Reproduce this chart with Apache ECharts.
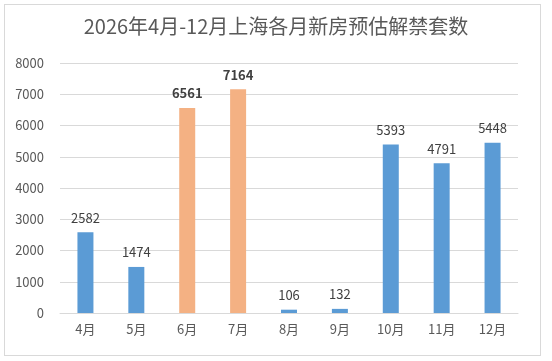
<!DOCTYPE html>
<html><head><meta charset="utf-8">
<script src="https://cdn.jsdelivr.net/npm/echarts@6/dist/echarts.min.js"></script>
<style>html,body{margin:0;padding:0;background:#fff}#c{width:552px;height:361px}
#frame{position:absolute;left:4px;top:4px;width:535px;height:350px;border:1px solid #d9d9d9;pointer-events:none}</style>
</head><body><div id="c"></div><div id="frame"></div>
<script>
const categories = ['4月','5月','6月','7月','8月','9月','10月','11月','12月'];
const values = [2582,1474,6561,7164,106,132,5393,4791,5448];
const highlight = [false,false,true,true,false,false,false,false,false];
const yTicks = [0,1000,2000,3000,4000,5000,6000,7000,8000];
const title = '2026年4月-12月上海各月新房预估解禁套数';

const font = '"Noto Sans CJK SC", "Noto Sans", sans-serif';
const chart = echarts.init(document.getElementById('c'));
chart.setOption({
  animation:false,
  backgroundColor:'#fff',
  title:{text:title,left:'center',top:11,textStyle:{fontFamily:font,fontSize:20,fontWeight:'normal',color:'#595959'}},
  grid:{left:60,right:34,top:63,bottom:48},
  xAxis:{type:'category',data:categories,
    axisLine:{lineStyle:{color:'#d9d9d9'}},axisTick:{show:false},
    axisLabel:{fontFamily:font,fontSize:13,color:'#595959',margin:10}},
  yAxis:{type:'value',min:yTicks[0],max:yTicks[yTicks.length-1],interval:1000,
    axisLine:{show:false},axisTick:{show:false},
    splitLine:{lineStyle:{color:'#d9d9d9'}},
    axisLabel:{fontFamily:font,fontSize:13,color:'#595959',margin:16,formatter:v=>String(v)}},
  series:[{type:'bar',barWidth:16,
    data:values.map((v,i)=>({value:v,
      itemStyle:{color:highlight[i]?'#F4B183':'#5B9BD5'},
      label:{fontWeight:highlight[i]?'bold':'normal'}})),
    label:{show:true,position:'top',distance:8,fontFamily:font,fontSize:13,color:'#404040'}}]
});
</script></body></html>
